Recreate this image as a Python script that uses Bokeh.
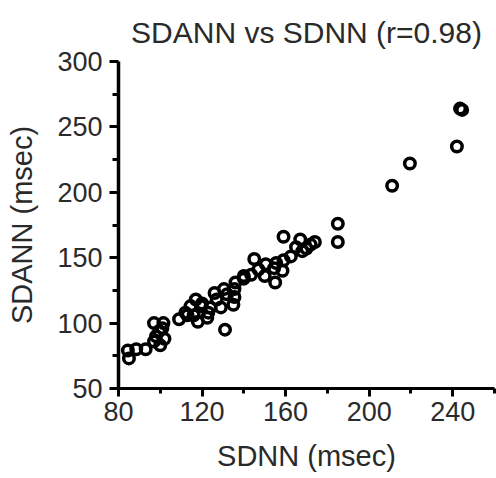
from bokeh.plotting import figure
from bokeh.models import FixedTicker, Title
from bokeh.embed import file_html
from bokeh.resources import INLINE

# Data (SDNN msec, SDANN msec)
sdnn = [84.5, 85, 88.5, 93, 97, 100, 102, 97, 101.5, 99.5, 98,
        109, 112, 114.5, 117, 118, 119.5, 122.5, 123, 116, 113,
        126, 129, 130.5, 131, 135.5, 135, 135.5, 136, 140, 140,
        143.5, 145, 150.5, 150, 154.5, 155, 155.5, 159, 158.5, 159,
        162.5, 165, 167, 170, 172, 174,
        185, 185, 211, 219.5, 242, 243.5, 244.5,
        120, 127, 124, 132, 101, 147, 168]
sdann = [79, 73, 80, 80, 86, 83, 88, 100, 100, 94, 90,
         103, 108, 113, 118, 101, 113, 104, 108, 106, 106,
         123, 112, 126, 95, 126, 114, 120, 131, 134, 136,
         137, 149, 145, 136, 142, 131, 146, 148, 140, 166,
         151, 158, 164, 157, 160, 162,
         176, 162, 205, 222, 235, 264, 263,
         115, 118, 112, 122, 96, 141, 155]

x_ticks = [80, 120, 160, 200, 240]
x_minor = [100, 140, 180, 220, 260]
y_ticks = [50, 100, 150, 200, 250, 300]
y_minor = [75, 125, 175, 225, 275]

FONT = "Liberation Sans"
TXT = "#2a2a2a"

p = figure(width=496, height=478, output_backend="svg", toolbar_location=None,
           x_range=(80, 260), y_range=(50, 300),
           min_border_left=118, min_border_right=2, min_border_top=61, min_border_bottom=90)
p.title = Title(text="SDANN vs SDNN (r=0.98)", align="center", text_font=FONT,
                text_font_size="30px", text_font_style="normal", text_color=TXT,
                standoff=25)
p.outline_line_color = None
p.grid.visible = False
p.background_fill_color = "white"
p.border_fill_color = "white"

p.scatter(sdnn, sdann, marker="circle", size=10.5, fill_color=None,
          line_color="black", line_width=3.5)

for ax, ticks, minor, label in ((p.xaxis[0], x_ticks, x_minor, "SDNN (msec)"),
                                (p.yaxis[0], y_ticks, y_minor, "SDANN (msec)")):
    ax.ticker = FixedTicker(ticks=ticks, minor_ticks=minor)
    ax.axis_label = label
    ax.axis_label_text_font = FONT
    ax.axis_label_text_font_size = "29px"
    ax.axis_label_text_font_style = "normal"
    ax.axis_label_text_color = TXT
    ax.major_label_text_font = FONT
    ax.major_label_text_font_size = "27px"
    ax.major_label_text_color = TXT
    ax.axis_line_color = "black"
    ax.major_tick_line_width = 3
    ax.minor_tick_line_width = 3
    ax.major_tick_in = 0
    ax.minor_tick_in = 0

p.xaxis.axis_line_width = 3
p.yaxis.axis_line_width = 3.5
p.xaxis.major_tick_out = 8
p.xaxis.minor_tick_out = 5
p.xaxis.major_label_standoff = 5
p.xaxis.axis_label_standoff = 16
p.yaxis.major_tick_out = 9
p.yaxis.minor_tick_out = 6
p.yaxis.major_label_standoff = 7
p.yaxis.axis_label_standoff = 16

open("out.html", "w").write(file_html(p, INLINE))
